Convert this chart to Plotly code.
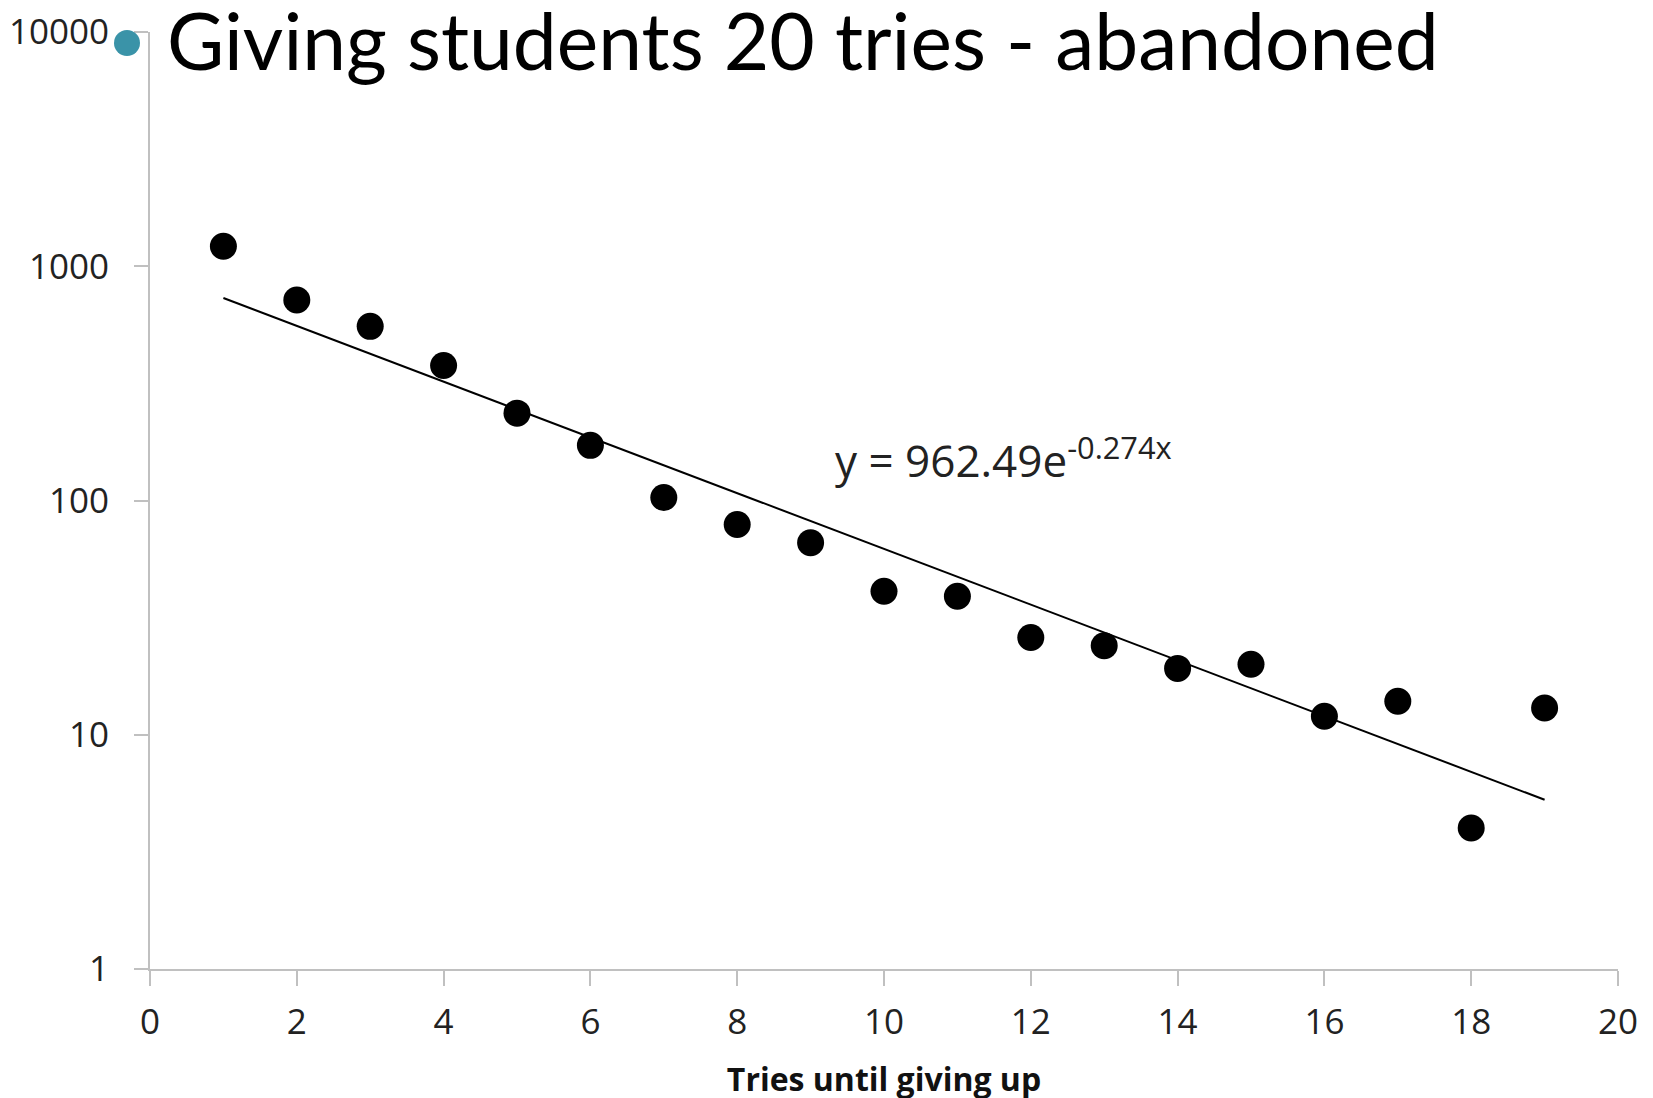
import plotly.graph_objects as go
import math

# ---- data ----
tries = [1, 2, 3, 4, 5, 6, 7, 8, 9, 10, 11, 12, 13, 14, 15, 16, 17, 18, 19]
abandoned = [1218, 718, 554, 377, 236, 172, 103, 79, 66, 41, 39, 26, 24, 19.2, 20, 12, 13.9, 4.0, 13]
trend_a = 962.49
trend_b = -0.274
trend_x = [1, 19]
y_tickvals = [1, 10, 100, 1000, 10000]
y_ticktext = ["1", "10", "100", "1000", "10000"]
x_tickvals = [0, 2, 4, 6, 8, 10, 12, 14, 16, 18, 20]

trend_y = [trend_a * math.exp(trend_b * x) for x in trend_x]

W, H = 1653, 1098
OFF = 8  # page body margin
L, T = 150 - OFF, 32 - OFF
PW, PH = 1468, 937
R, B = W - L - PW, H - T - PH

def px(x):
    return (x - OFF - L) / PW

def py(y):
    return (T + PH - (y - OFF)) / PH

fig = go.Figure()
fig.add_trace(go.Scatter(x=trend_x, y=trend_y, mode="lines",
                         line=dict(color="black", width=2), showlegend=False))
fig.add_trace(go.Scatter(x=tries, y=abandoned, mode="markers",
                         marker=dict(color="black", size=27), showlegend=False))

axis_font = dict(family="Open Sans", size=35, color="#222222")
fig.update_xaxes(range=[0, 20], tickvals=x_tickvals, showgrid=False, zeroline=False,
                 showline=True, linecolor="#c0c0c0", linewidth=2,
                 ticks="outside", ticklen=15, tickwidth=2, tickcolor="#c0c0c0",
                 tickfont=axis_font, ticklabelstandoff=6, ticklabeloverflow="allow",
                 automargin=False,
                 title=dict(text="<b>Tries until giving up</b>",
                            font=dict(family="Open Sans", size=32, color="#111111"),
                            standoff=26))
fig.update_yaxes(type="log", range=[0, 4], tickvals=y_tickvals, ticktext=y_ticktext,
                 showgrid=False, zeroline=False,
                 showline=True, linecolor="#c0c0c0", linewidth=2,
                 ticks="outside", ticklen=14, tickwidth=2, tickcolor="#c0c0c0",
                 tickfont=axis_font, ticklabelstandoff=18, ticklabeloverflow="allow",
                 automargin=False)

# annotation y on a log axis is given in log10 units
fig.add_annotation(x=9.3, y=2.18, xref="x", yref="y",
                   text="y = 962.49e<sup>-0.274x</sup>", showarrow=False,
                   xanchor="left", yanchor="middle",
                   font=dict(family="Open Sans", size=44, color="#222222"))

# bullet + title
fig.add_shape(type="circle", xref="paper", yref="paper",
              x0=px(114), x1=px(140), y0=py(56), y1=py(30),
              fillcolor="#3a93a8", line=dict(width=0), layer="above")
fig.add_annotation(xref="paper", yref="paper", x=px(165), y=py(40),
                   text="Giving students 20 tries - abandoned", showarrow=False,
                   xanchor="left", yanchor="middle",
                   font=dict(family="Lato", size=78.5, color="black"))

fig.update_layout(width=W, height=H, margin=dict(l=L, r=R, t=T, b=B),
                  plot_bgcolor="white", paper_bgcolor="white")
fig.write_html("out.html")
